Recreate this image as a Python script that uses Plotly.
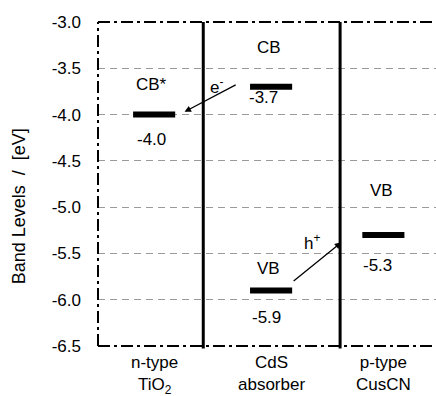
import plotly.graph_objects as go

# ---- data ----
materials = ["n-type<br>TiO<sub>2</sub>", "CdS<br>absorber", "p-type<br>CusCN"]
col_pos = [0.0, 1.0, 1.96]          # column centres on x axis
dividers = [0.44, 1.61]             # x positions of the thick separators
band_cols = [0, 1, 1, 2]            # which column each level belongs to
band_names = ["CB*", "CB", "VB", "VB"]
band_values = [-4.0, -3.7, -5.9, -5.3]
y_ticks = [-3.0, -3.5, -4.0, -4.5, -5.0, -5.5, -6.0, -6.5]
y_range = [-6.5, -3.0]
x_range = [-0.46, 2.43]
y_title = "Band Levels  /  [eV]"

FONT = "Liberation Sans, Arial, sans-serif"
half = 0.18

fig = go.Figure()

# energy level bars
for c, v in zip(band_cols, band_values):
    x0 = col_pos[c]
    fig.add_trace(go.Scatter(x=[x0 - half + 0.02, x0 + half + 0.02], y=[v, v], mode="lines",
                             line=dict(color="black", width=6), showlegend=False, hoverinfo="skip"))

shapes = []
# thick separators
for d in dividers:
    shapes.append(dict(type="line", xref="x", yref="paper", x0=d, x1=d, y0=-0.008, y1=1,
                       line=dict(color="black", width=3), layer="above"))
# dash-dot borders
dd = "12px,4px,3px,4px"
for yy in [0, 1]:
    shapes.append(dict(type="line", xref="paper", yref="paper", x0=0, x1=1, y0=yy, y1=yy,
                       line=dict(color="black", width=2, dash=dd), layer="above"))
shapes.append(dict(type="line", xref="paper", yref="paper", x0=0, x1=0, y0=0, y1=1,
                   line=dict(color="black", width=2, dash=dd), layer="above"))

annotations = []
name_shift = [30, 39, 22, 44]
val_shift = [-25, -11, -27, -31]
val_dx = [0, -5, -2, -4]
for c, n, v, ns, vs, dx in zip(band_cols, band_names, band_values, name_shift, val_shift, val_dx):
    x0 = col_pos[c]
    annotations.append(dict(x=x0, y=v, xref="x", yref="y", text=n, showarrow=False,
                            yshift=ns, font=dict(family=FONT, size=17, color="black")))
    annotations.append(dict(x=x0, y=v, xref="x", yref="y", text=f"{v:.1f}", showarrow=False,
                            yshift=vs, xshift=dx, font=dict(family=FONT, size=17, color="black")))

# electron transfer arrow (CdS CB -> TiO2 CB*)
annotations.append(dict(x=col_pos[0] + 0.28, y=band_values[0] + 0.03, ax=col_pos[1] - 0.27, ay=band_values[1] + 0.03,
                        xref="x", yref="y", axref="x", ayref="y", text="", showarrow=True,
                        arrowhead=2, arrowsize=1, arrowwidth=1.3, arrowcolor="black"))
annotations.append(dict(x=col_pos[1] - 0.45, y=band_values[1] + 0.01, xref="x", yref="y", text="e<sup>-</sup>",
                        showarrow=False, font=dict(family=FONT, size=17, color="black")))
# hole transfer arrow (CdS VB -> CusCN VB)
annotations.append(dict(x=1.62, y=band_values[3] - 0.08, ax=col_pos[1] + 0.2, ay=band_values[2] + 0.09,
                        xref="x", yref="y", axref="x", ayref="y", text="", showarrow=True,
                        arrowhead=2, arrowsize=1, arrowwidth=1.3, arrowcolor="black"))
annotations.append(dict(x=1.37, y=-5.38, xref="x", yref="y", text="h<sup>+</sup>",
                        showarrow=False, font=dict(family=FONT, size=17, color="black")))

# category labels below the axis
for p, m in zip(col_pos, materials):
    annotations.append(dict(x=p + 0.02, y=0, xref="x", yref="paper", yanchor="top", text=m,
                            showarrow=False, yshift=-5, align="center",
                            font=dict(family=FONT, size=17, color="black")))

# y-axis title
annotations.append(dict(x=0, y=-4.99, xref="paper", yref="y", text=y_title, textangle=-90,
                        xanchor="center", yanchor="middle",
                        showarrow=False, xshift=-79, font=dict(family=FONT, size=18, color="black")))

fig.update_layout(
    width=436, height=396,
    margin=dict(l=98, r=0, t=22, b=50),
    paper_bgcolor="white", plot_bgcolor="white",
    shapes=shapes, annotations=annotations,
    xaxis=dict(range=x_range, showgrid=False, zeroline=False, showticklabels=False, ticks="",
               showline=False),
    yaxis=dict(range=y_range, tickvals=y_ticks, ticktext=[f"{t:.1f}" for t in y_ticks],
               showgrid=True, gridcolor="#9a9a9a", griddash="7px,5px", gridwidth=1,
               zeroline=False, showline=False, ticks="", ticklabelstandoff=16,
               tickfont=dict(family=FONT, size=17, color="black")),
)

fig.write_html("out.html")
